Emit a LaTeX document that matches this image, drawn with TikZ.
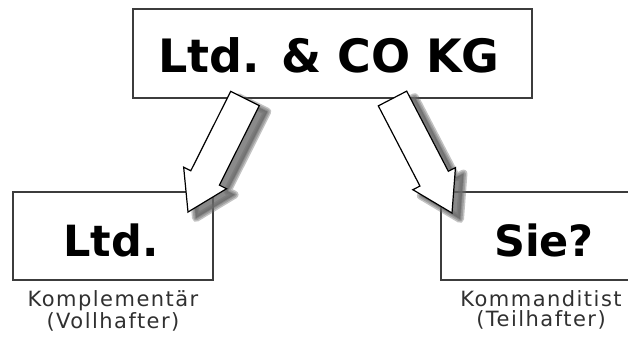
\documentclass[tikz,border=0pt]{standalone}
\usepackage{fontspec}
\setmainfont{DejaVu Sans}
\usetikzlibrary{positioning,calc}
\definecolor{framegray}{HTML}{3C3C3C}
\definecolor{labelgray}{HTML}{303030}
\definecolor{shadegray}{HTML}{6A6A6A}
\tikzset{
  firmbox/.style={rectangle, draw=framegray, line width=1.4pt, fill=white, inner sep=0pt},
  firmtext/.style={font=\bfseries\fontsize{46}{50}\selectfont},
  parttext/.style={font=\bfseries\fontsize{43}{48}\selectfont},
  rolelabel/.style={inner sep=0pt, align=center, text=labelgray,
    font=\addfontfeature{LetterSpace=7}\fontsize{21}{20}\selectfont},
  arrowbody/.style={draw=black, line width=1.2pt, fill=white, line join=miter},
  arrowshade/.style={fill=shadegray, draw=shadegray, opacity=0.4, line join=round}
}
% block arrow from #1 (tail) to #2 (tip)
\newcommand{\blockpath}[2]{
  ($(#1)!16pt!90:(#2)$) -- ($($(#1)!0.7!(#2)$)!16pt!90:(#2)$)
  -- ($($(#1)!0.7!(#2)$)!24pt!90:(#2)$) -- (#2)
  -- ($($(#1)!0.7!(#2)$)!24pt!-90:(#2)$) -- ($($(#1)!0.7!(#2)$)!16pt!-90:(#2)$)
  -- ($(#1)!16pt!-90:(#2)$) -- cycle
}

\begin{document}
\begin{tikzpicture}[x=1pt, y=-1pt]
\useasboundingbox (0,0) rectangle (628,338);
\clip (0,0) rectangle (628,338);

% boxes
\node[firmbox, minimum width=399pt, minimum height=89pt] (firm) at (332.5,53.5) {};
\node[firmtext] at (329,55.5) {Ltd. \& CO KG};
\node[firmbox, minimum width=200pt, minimum height=88pt] (ltd) at (113,236) {};
\node[parttext] (ltdtext) at (111,240) {Ltd.};
\node[firmbox, minimum width=200pt, minimum height=88pt] (sie) at (541,236) {};
\node[parttext] (sietext) at (544,240) {Sie?};

% roles
\node[rolelabel, below=10pt of ltd] (komp) {Komplementär\\(Vollhafter)};
\node[rolelabel, below=10pt of sie] (komm) {Kommanditist\\(Teilhafter)};

% arrows
\coordinate (ltail) at (245,98.5);
\coordinate (ltip) at (188,212);
\coordinate (rtail) at (392.5,98.5);
\coordinate (rtip) at (452,213);

% soft shadow
\begin{scope}[transform canvas={xshift=8pt, yshift=-6pt}]
\foreach \w in {8,5,2} {
  \filldraw[arrowshade, line width=\w pt] \blockpath{ltail}{ltip};
  \filldraw[arrowshade, line width=\w pt] \blockpath{rtail}{rtip};
}
\end{scope}
\filldraw[arrowbody] \blockpath{ltail}{ltip};
\filldraw[arrowbody] \blockpath{rtail}{rtip};
\end{tikzpicture}
\end{document}
